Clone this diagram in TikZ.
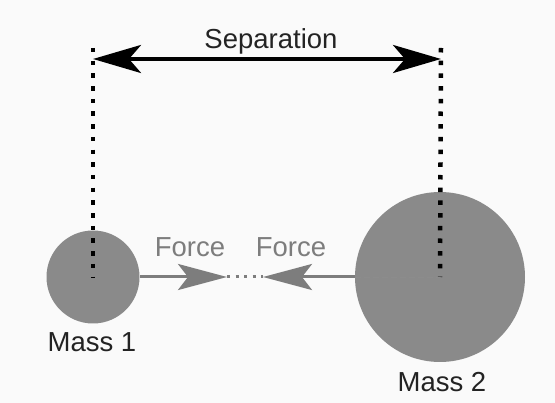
\documentclass[tikz,border=0pt]{standalone}
\usepackage{fontspec}
\setmainfont{Liberation Sans}
\usetikzlibrary{arrows.meta}
\definecolor{massgray}{RGB}{138,138,138}
\definecolor{forcegray}{RGB}{125,125,125}
\definecolor{inkgray}{RGB}{35,35,35}
\begin{document}
\begin{tikzpicture}[x=1pt,y=-1pt,
  mass/.style={circle,fill=massgray,inner sep=0pt},
  guide/.style={line width=4.5pt,dash pattern=on 4.5pt off 8.2pt,black},
  sep/.style={line width=4pt,black,{Stealth[length=48pt,width=28pt,inset=12pt]}-{Stealth[length=48pt,width=28pt,inset=12pt]}},
  force/.style={line width=3pt,forcegray,-{Stealth[length=49pt,width=26pt,inset=10pt]}},
  lbl/.style={anchor=base,text=inkgray,font=\fontsize{27.5pt}{30pt}\selectfont},
  forcelbl/.style={lbl,text=forcegray}]
\fill[gray!4] (0,0) rectangle (555,403);
\useasboundingbox (0,0) rectangle (555,403);
% the two masses
\node[mass,minimum size=93pt] (m1) at (93,277) {};
\node[mass,minimum size=170pt] (m2) at (440,277) {};
% forces
\coordinate (f1) at (227,277);
\coordinate (f2) at (263,277);
\draw[force] (m1.east) -- (f1);
\draw[force] (m2.west) -- (f2);
\draw[forcegray,line width=3pt,dash pattern=on 3pt off 5.5pt] (f1) -- (f2);
\draw[black!45,line width=0.8pt,dash pattern=on 6pt off 3pt] (m2.west) -- (m2.center);
\node[forcelbl] (fl1) at (190,257) {Force};
\node[forcelbl] (fl2) at (291,257) {Force};
% separation
\coordinate (t1) at (93,48);
\coordinate (t2) at (441,48);
\draw[guide] (t1) -- (m1.center);
\draw[guide] (t2) -- (m2.center);
\coordinate (s1) at (93,59);
\coordinate (s2) at (441,59);
\draw[sep] (s1) -- (s2);
\node[lbl] (sep) at (271,49) {Separation};
% labels
\node[lbl] (n1) at (92,352) {Mass 1};
\node[lbl] (n2) at (442,392) {Mass 2};
\end{tikzpicture}
\end{document}
